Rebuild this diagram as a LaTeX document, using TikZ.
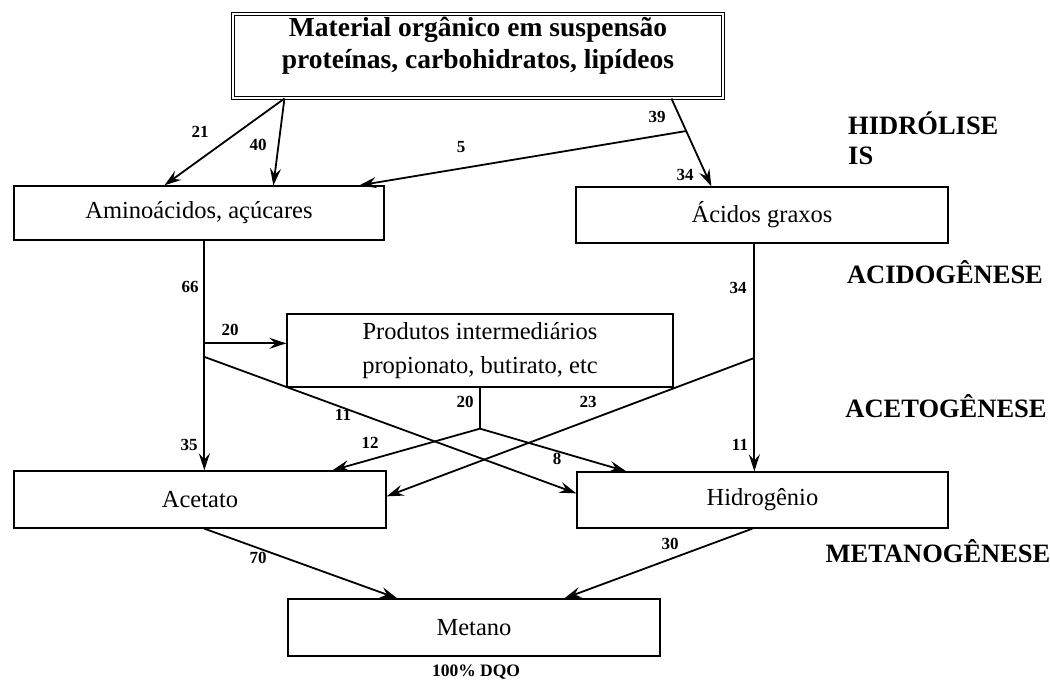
\documentclass[tikz,border=0pt]{standalone}
\usepackage{fontspec}
\setmainfont{Liberation Serif}
\usetikzlibrary{arrows.meta,calc}
\tikzset{
  box/.style={draw=black,line width=1.3pt,rectangle,inner sep=0pt,align=center,font=\fontsize{24.5}{34}\selectfont},
  flow/.style={line width=1.8pt,-{Stealth[length=17pt,width=11pt,inset=6pt]}},
  seg/.style={line width=1.8pt},
  num/.style={font=\bfseries\fontsize{17}{18}\selectfont,inner sep=0pt},
  stage/.style={font=\bfseries\fontsize{26.5}{30}\selectfont,inner sep=0pt},
}
\begin{document}
\begin{tikzpicture}[x=1pt,y=-1pt]
\useasboundingbox (0,0) rectangle (1050,680);
% boxes
\node[draw=black,double,double distance=2pt,line width=1.1pt,minimum width=490pt,minimum height=84pt,inner sep=0pt] (top) at (478,56) {};
\node[font=\bfseries\fontsize{27.5}{32}\selectfont,align=center,inner sep=0pt] (toptext) at (478,46) {Material orgânico em suspensão\\proteínas, carbohidratos, lipídeos};
\node[box,minimum width=370pt,minimum height=54pt] (amino) at (199,213) {Aminoácidos, açúcares};
\node[box,minimum width=372pt,minimum height=56pt] (acidos) at (762,215) {Ácidos graxos};
\node[box,minimum width=386pt,minimum height=73pt] (prod) at (480,350.5) {Produtos intermediários\\propionato, butirato, etc};
\node[box,minimum width=372pt,minimum height=57pt] (acet) at (200,499.5) {Acetato};
\node[box,minimum width=371pt,minimum height=56pt] (hidro) at (762.5,500) {Hidrogênio};
\node[box,minimum width=372pt,minimum height=57pt] (metano) at (474,627.5) {Metano};
% coordinates
\coordinate (tL) at ($(top.south west)+(52,0)$);
\coordinate (tR) at ($(top.south west)+(439,0)$);
\coordinate (a1) at ($(amino.north west)+(151,0)$);
\coordinate (a2) at ($(amino.north west)+(260,0)$);
\coordinate (a3) at ($(amino.north west)+(346,0)$);
\coordinate (c1) at ($(acidos.north west)+(136,0)$);
\coordinate (bR) at ($(tR)!0.37!(c1)$);
\coordinate (aS) at ($(amino.south west)+(191,0)$);
\coordinate (eN) at ($(acet.north west)+(191,0)$);
\coordinate (b1) at ($(aS)!0.447!(eN)$);
\coordinate (b2) at ($(aS)!0.506!(eN)$);
\coordinate (hW) at ($(hidro.north west)+(0,22)$);
\coordinate (j) at ($(prod.south)+(0,41)$);
\coordinate (eB) at ($(acet.north west)+(319,0)$);
\coordinate (hB) at ($(hidro.north west)+(50,0)$);
\coordinate (cS) at ($(acidos.south west)+(179,0)$);
\coordinate (hN) at ($(hidro.north west)+(178,0)$);
\coordinate (c2) at ($(cS)!0.502!(hN)$);
\coordinate (eE) at ($(acet.north east)+(0,26)$);
\coordinate (eS) at ($(acet.south west)+(191,0)$);
\coordinate (m1) at ($(metano.north west)+(110,0)$);
\coordinate (hS) at ($(hidro.south west)+(176,0)$);
\coordinate (m2) at ($(metano.north west)+(277,0)$);
% connectors
\draw[flow] (tL) -- (a1);
\draw[flow] (tL) -- (a2);
\draw[flow] (tR) -- (c1);
\draw[flow] (bR) -- (a3);
\draw[flow] (aS) -- (eN);
\draw[flow] (b1) -- (b1 -| prod.west);
\draw[flow] (b2) -- (hW);
\draw[seg] (prod.south) -- (j);
\draw[flow] (j) -- (eB);
\draw[flow] (j) -- (hB);
\draw[flow] (cS) -- (hN);
\draw[flow] (c2) -- (eE);
\draw[flow] (eS) -- (m1);
\draw[flow] (hS) -- (m2);
% numbers
\node[num] (n21) at (200,132) {21};
\node[num] (n40) at (258,145) {40};
\node[num] (n39) at (657,117) {39};
\node[num] (n34a) at (685,175) {34};
\node[num] (n5) at (461,147) {5};
\node[num] (n66) at (190,287) {66};
\node[num] (n20a) at (230,330) {20};
\node[num] (n11a) at (343,415) {11};
\node[num] (n20b) at (465,402) {20};
\node[num] (n12) at (370,443) {12};
\node[num] (n35) at (189,445) {35};
\node[num] (n34b) at (738,288) {34};
\node[num] (n23) at (588,402) {23};
\node[num] (n8) at (557,459) {8};
\node[num] (n11b) at (740,445) {11};
\node[num] (n70) at (258,558) {70};
\node[num] (n30) at (670,544) {30};
\node[font=\bfseries\fontsize{17.5}{20}\selectfont,inner sep=0pt] (dqo) at (476,672) {100\% DQO};
% stages
\node[stage,anchor=west] (s1) at (848,123) {HIDRÓLISE};
\node[stage,anchor=west] (s1b) at (848,156) {IS};
\node[stage] (s2) at (945,272) {ACIDOGÊNESE};
\node[stage] (s3) at (946,406) {ACETOGÊNESE};
\node[stage] (s4) at (938,551) {METANOGÊNESE};
\end{tikzpicture}
\end{document}
